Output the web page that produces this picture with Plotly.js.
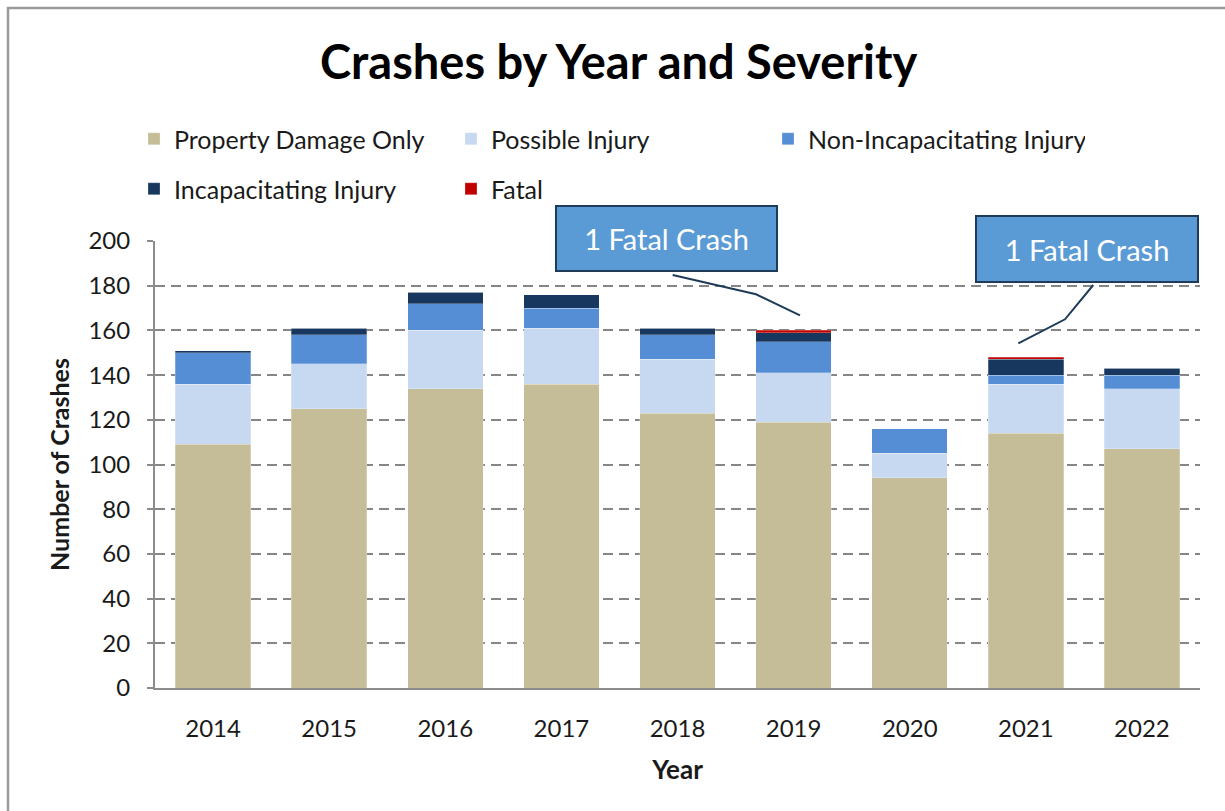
<!DOCTYPE html>
<html>
<head>
<meta charset="utf-8">
<script src="https://cdn.plot.ly/plotly-3.0.1.min.js"></script>
<style>html,body{margin:0;padding:0;background:#fff;}#chart{width:1225px;height:811px;}</style>
</head>
<body>
<div id="chart"></div>
<script>
const years = ["2014","2015","2016","2017","2018","2019","2020","2021","2022"];
const propertyDamageOnly = [109,125,134,136,123,119,94,114,107];
const possibleInjury = [27,20,26,25,24,22,11,22,27];
const nonIncapacitatingInjury = [14,13,12,9,11,14,11,4,6];
const incapacitatingInjury = [1,3,5,6,3,4,0,7,3];
const fatal = [0,0,0,0,0,1,0,1,0];
const seriesNames = ["Property Damage Only","Possible Injury","Non-Incapacitating Injury","Incapacitating Injury","Fatal"];
const seriesColors = ["#C4BD97","#C6D9F1","#558ED5","#17375E","#C00000"];
const seriesLegend = ["legend","legend","legend","legend2","legend2"];
const seriesValues = [propertyDamageOnly,possibleInjury,nonIncapacitatingInjury,incapacitatingInjury,fatal];
const calloutText = "1 Fatal Crash";

const FONT = "Lato, 'Open Sans', sans-serif";
const traces = seriesValues.map((vals,i)=>({
  type:"bar", name:seriesNames[i], x:years, y:vals, legend:seriesLegend[i],
  marker:{color:seriesColors[i], line:{color:"rgba(255,255,255,0.5)", width:0.5}},
  hoverinfo:"x+y+name"
}));

// plot-area pixel helpers for decorative callouts
const L=155, T=241, W=1045, H=447;
const px = p => (p-L)/W;
const py = p => (T+H-p)/H;

const lineColor = "#1F3B5A";
const legendBase = {orientation:"h", xanchor:"left", yanchor:"top", traceorder:"normal",
  font:{family:FONT, size:25, color:"#1a1a1a"}, entrywidth:272, entrywidthmode:"pixels",
  itemwidth:30, bgcolor:"rgba(0,0,0,0)"};
const layout = {
  width:1225, height:811,
  margin:{l:L, r:1225-L-W, t:T, b:811-T-H},
  paper_bgcolor:"#fff", plot_bgcolor:"#fff",
  barmode:"stack", bargap:0.35,
  font:{family:FONT, color:"#1a1a1a", size:20},
  title:{text:"<b>Crashes by Year and Severity</b>", font:{family:FONT, size:47, color:"#000"},
         xref:"container", x:0.505, xanchor:"center", yref:"container", y:1-63/811, yanchor:"middle"},
  showlegend:true,
  legend:Object.assign({}, legendBase, {x:px(134), y:py(116)}),
  legend2:Object.assign({}, legendBase, {x:px(134), y:py(166)}),
  xaxis:{type:"category", showline:true, linecolor:"#8c8c8c", linewidth:2,
         ticks:"", tickfont:{family:FONT, size:24, color:"#1a1a1a"}, ticklabelstandoff:18,
         title:{text:"<b>Year</b>", font:{family:FONT, size:26, color:"#1a1a1a"}, standoff:20},
         showgrid:false, fixedrange:true},
  yaxis:{range:[0,200], dtick:20, showline:true, linecolor:"#8c8c8c", linewidth:2,
         ticks:"outside", ticklen:6, tickcolor:"#8c8c8c", tickwidth:1.5,
         tickfont:{family:FONT, size:24, color:"#1a1a1a"}, ticklabelstandoff:12,
         showgrid:true, gridcolor:"#868686", griddash:"10px,6px", gridwidth:2, zeroline:false,
         title:{text:"<b>Number of Crashes</b>", font:{family:FONT, size:25, color:"#1a1a1a"}, standoff:12},
         fixedrange:true},
  shapes:[
    {type:"rect", xref:"paper", yref:"paper", x0:px(8), x1:px(1260), y0:py(8), y1:py(840),
     line:{color:"#9a9a9a", width:2.5}, fillcolor:"rgba(0,0,0,0)", layer:"below"},
    {type:"path", xref:"paper", yref:"paper",
     path:`M${px(672.7)},${py(275)} L${px(756)},${py(294.3)} L${px(800)},${py(315.3)}`,
     line:{color:lineColor, width:2}},
    {type:"path", xref:"paper", yref:"paper",
     path:`M${px(1093.3)},${py(285)} L${px(1065)},${py(319.3)} L${px(1018.3)},${py(343.3)}`,
     line:{color:lineColor, width:2}}
  ],
  annotations:[
    {xref:"paper", yref:"paper", x:px(666.5), y:py(238.5), xanchor:"center", yanchor:"middle",
     text:calloutText, showarrow:false, width:219, height:63, bgcolor:"#5B9BD5",
     bordercolor:lineColor, borderwidth:2, borderpad:0, font:{family:FONT, size:29, color:"#fff"}},
    {xref:"paper", yref:"paper", x:px(1087), y:py(249), xanchor:"center", yanchor:"middle",
     text:calloutText, showarrow:false, width:220, height:64, bgcolor:"#5B9BD5",
     bordercolor:lineColor, borderwidth:2, borderpad:0, font:{family:FONT, size:29, color:"#fff"}}
  ]
};
Plotly.newPlot("chart", traces, layout, {displayModeBar:false, responsive:false});
</script>
</body>
</html>
